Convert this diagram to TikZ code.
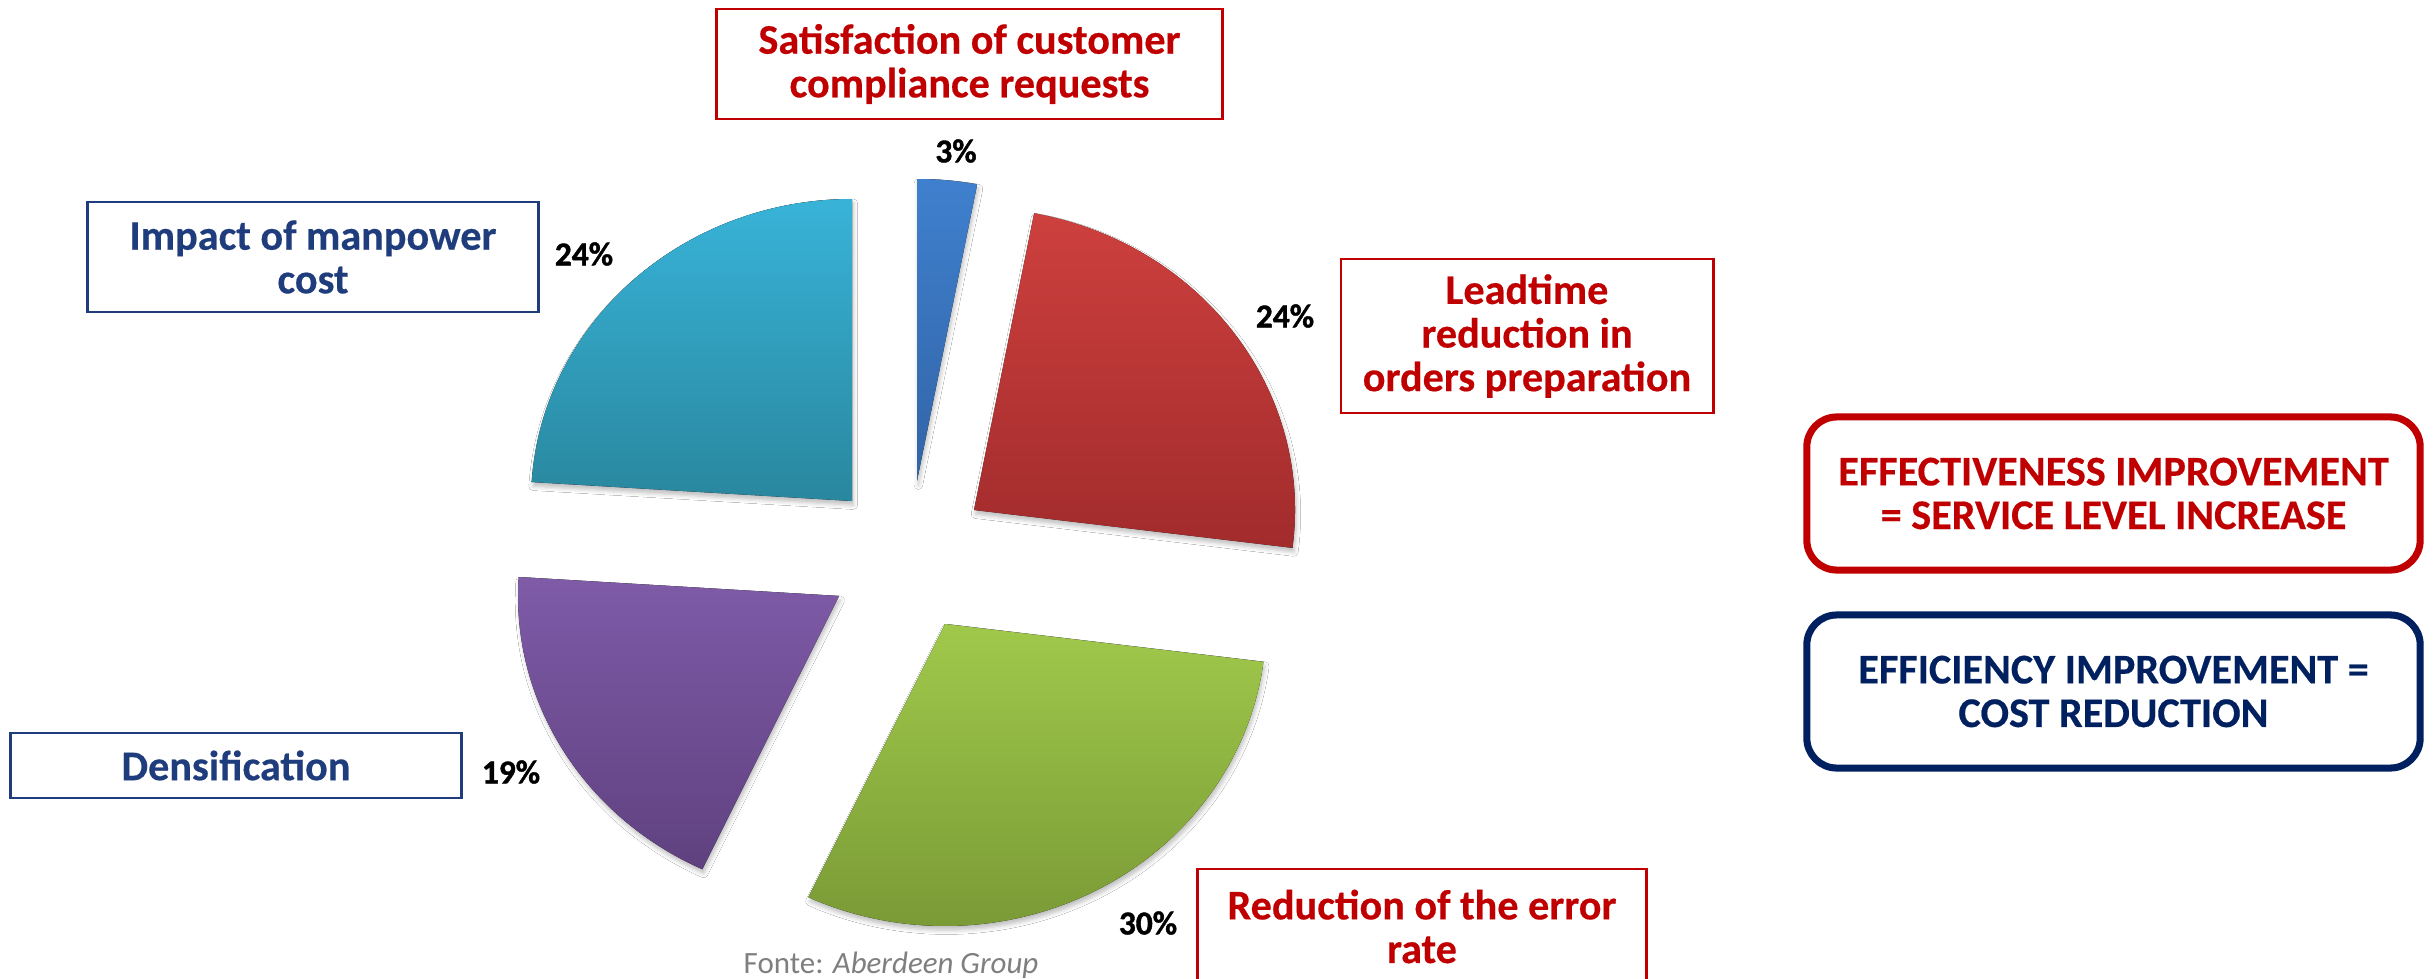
\documentclass[tikz,border=0pt]{standalone}
\usepackage{fontspec}
\setmainfont{Carlito}
\usetikzlibrary{shadows.blur}
\definecolor{cred}{HTML}{C00000}
\definecolor{cblue}{HTML}{1F3D7C}
\definecolor{cnavy}{HTML}{002060}
\definecolor{cgray}{HTML}{7F7F7F}
\definecolor{bluetop}{HTML}{3F80CE}\definecolor{bluebot}{HTML}{3264A6}
\definecolor{redtop}{HTML}{CD403E}\definecolor{redbot}{HTML}{A22B2C}
\definecolor{greentop}{HTML}{A0C94B}\definecolor{greenbot}{HTML}{799935}
\definecolor{purptop}{HTML}{7F5BA8}\definecolor{purpbot}{HTML}{5F417F}
\definecolor{cyantop}{HTML}{38B3D8}\definecolor{cyanbot}{HTML}{29879E}
\tikzset{
  slice/.style={blur shadow={shadow xshift=0.4pt,shadow yshift=-1.2pt,shadow blur radius=1.2pt,shadow opacity=25}},
  boxbase/.style={draw, line width=0.8pt, fill=white, align=center, inner sep=0pt,
    font=\fontsize{12}{12.4}\selectfont\bfseries\addfontfeatures{FakeBold=0.4}},
  redbox/.style={boxbase, draw=cred, text=cred},
  bluebox/.style={boxbase, draw=cblue, text=cblue},
  roundbox/.style={boxbase, rounded corners=8.5pt, line width=2pt, minimum width=6.13cm, minimum height=1.53cm},
  pct/.style={font=\fontsize{9.5}{11}\selectfont\bfseries\addfontfeatures{FakeBold=1.2}, text=black, inner sep=0pt}
}
\newcommand{\pieslice}[5]{%
  \fill[slice, top color=#4, bottom color=#5] (#1) -- ++(#2:321 and 302)
    arc[start angle=#2, end angle=#3, x radius=321, y radius=302] -- cycle;}
\begin{document}
\begin{tikzpicture}[x=0.01cm,y=-0.01cm]
\useasboundingbox (0,0) rectangle (2433,979);
\fill[white] (0,0) rectangle (2433,979);
\clip (0,0) rectangle (2433,979);

% pie apexes
\coordinate (aB) at (917,481);
\coordinate (aR) at (974,510);
\coordinate (aG) at (945,624);
\coordinate (aP) at (839,596);
\coordinate (aC) at (852,501);

\pieslice{aB}{-90}{-79.2}{bluetop}{bluebot}
\pieslice{aR}{-79.2}{7.2}{redtop}{redbot}
\pieslice{aG}{7.2}{115.2}{greentop}{greenbot}
\pieslice{aP}{115.2}{183.6}{purptop}{purpbot}
\pieslice{aC}{183.6}{270}{cyantop}{cyanbot}

% percentages
\node[pct] (p3) at (956,151) {3\%};
\node[pct] (p24a) at (584,254) {24\%};
\node[pct] (p24b) at (1285,316) {24\%};
\node[pct] (p19) at (511,772) {19\%};
\node[pct] (p30) at (1148,923) {30\%};

% label boxes
\node[redbox, minimum width=5.05cm, minimum height=1.10cm] (sat) at (969.5,64)
  {Satisfaction of customer\\compliance requests};
\node[bluebox, minimum width=4.50cm, minimum height=1.10cm] (imp) at (313,257)
  {Impact of manpower\\cost};
\node[redbox, minimum width=3.72cm, minimum height=1.54cm] (lead) at (1527,336)
  {Leadtime\\reduction in\\orders preparation};
\node[bluebox, minimum width=4.50cm, minimum height=0.65cm] (dens) at (236,765.5)
  {Densification};
\node[redbox, minimum width=4.48cm, minimum height=1.15cm] (err) at (1422,926.5)
  {Reduction of the error\\rate};

% right boxes
\node[roundbox, draw=cred, text=cred] (eff1) at (2113.5,493.5)
  {EFFECTIVENESS IMPROVEMENT\\= SERVICE LEVEL INCREASE};
\node[roundbox, draw=cnavy, text=cnavy] (eff2) at (2113.5,691.5)
  {EFFICIENCY IMPROVEMENT =\\COST REDUCTION};

% source
\node[text=cgray, font=\fontsize{8.8}{10}\selectfont, inner sep=0pt] (src) at (891,965)
  {Fonte: \textit{Aberdeen Group}};
\end{tikzpicture}
\end{document}
